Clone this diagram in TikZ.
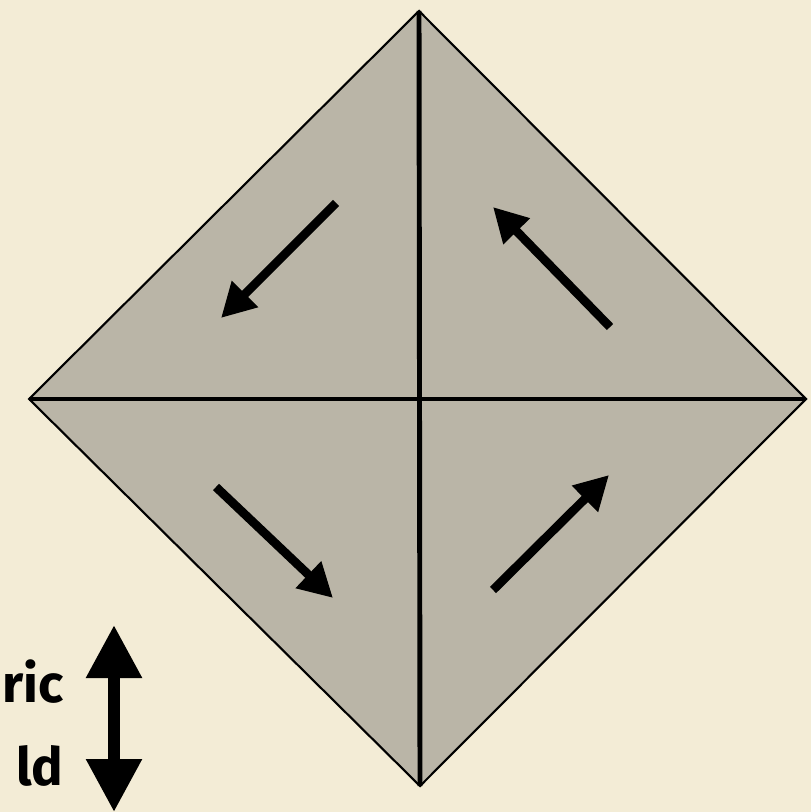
\documentclass[tikz,border=0pt]{standalone}
\usepackage{fontspec}
\setmainfont{Fira Sans}
\usetikzlibrary{positioning, arrows.meta}
\definecolor{paper}{RGB}{243, 236, 214}
\definecolor{slate}{RGB}{186, 181, 167}

\begin{document}
\begin{tikzpicture}[
        edge/.style={black, line width=0.6pt, line join=miter},
        axis/.style={black, line width=1.4pt},
        flow/.style={black, line width=2.5pt, -{Triangle[length=3.4mm, width=3.5mm]}},
        field/.style={black, line width=3.4pt, {Triangle[length=5.3mm, width=5.3mm]}-{Triangle[length=5.3mm, width=5.3mm]}},
        lbl/.style={font=\fontsize{15}{19}\selectfont\bfseries, anchor=base east, inner sep=0pt}
    ]

    % Paper background, 1 px = 0.01 cm
    \fill[paper] (0, 0) rectangle (8.11, -8.12);
    \useasboundingbox (0, 0) rectangle (8.11, -8.12);

    % Corners of the square (turned 45 degrees)
    \coordinate (top) at (4.19, -0.11);
    \coordinate (left) at (0.29, -3.99);
    \coordinate (right) at (8.06, -3.99);
    \coordinate (bottom) at (4.20, -7.86);
    \coordinate (mid) at (4.20, -3.99);

    \filldraw[edge, fill=slate] (top) -- (right) -- (bottom) -- (left) -- cycle;

    % Cross through the middle
    \draw[axis] (top) -- (bottom);
    \draw[axis] (left) -- (right);

    % Circulation in the four quarters
    \coordinate (tlA) at (3.36, -2.03);
    \coordinate (tlB) at (2.21, -3.18);
    \draw[flow] (tlA) -- (tlB);

    \coordinate (trA) at (6.10, -3.27);
    \coordinate (trB) at (4.93, -2.07);
    \draw[flow] (trA) -- (trB);

    \coordinate (blA) at (2.16, -4.87);
    \coordinate (blB) at (3.33, -5.98);
    \draw[flow] (blA) -- (blB);

    \coordinate (brA) at (4.93, -5.90);
    \coordinate (brB) at (6.09, -4.75);
    \draw[flow] (brA) -- (brB);

    % Field direction, bottom left
    \coordinate (fTop) at (1.14, -6.25);
    \coordinate (fBot) at (1.14, -8.12);
    \draw[field] (fBot) -- (fTop);

    \node[lbl] (ricTxt) at (0.64, -7.02) {ric};
    \node[lbl] (ldTxt) at (0.64, -7.85) {ld};

\end{tikzpicture}
\end{document}
